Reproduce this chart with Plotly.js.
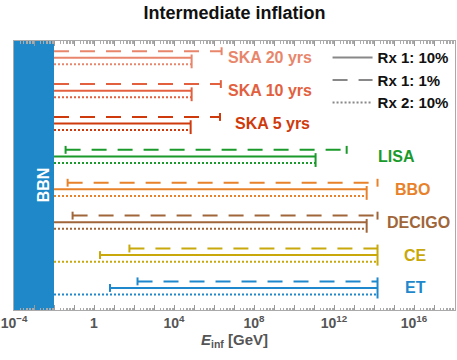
<!DOCTYPE html>
<html>
<head>
<meta charset="utf-8">
<script src="https://cdn.plot.ly/plotly-3.0.1.min.js"></script>
<style>
  html, body { margin: 0; padding: 0; background: #fff; }
  #chart { width: 457px; height: 360px; }
</style>
</head>
<body>
<div id="chart"></div>
<script>
// detectors, bottom to top (E_inf in GeV, null = starts at the BBN bound)
var detectors = ['ET', 'CE', 'DECIGO', 'BBO', 'LISA', 'SKA 5 yrs', 'SKA 10 yrs', 'SKA 20 yrs'];
var colors = ['#1f88cc', '#c8a80a', '#a0663a', '#e8822a', '#1a9a2a', '#cf3a0c', '#e2603e', '#e8866c'];

// Rx 1: 1% (dashed)
var dashLo = [150, 59, 0.085, 0.048, 0.038, null, null, null];
var dashHi = [1.5e14, 1.5e14, 1.5e14, 1.5e14, 4.3e12, 2.0e6, 2.2e6, 2.4e6];
// Rx 1: 10% (solid)
var solidLo = [6.3, 2.0, null, null, null, null, null, null];
var solidHi = [1.5e14, 1.5e14, 4.3e13, 4.3e13, 1.2e11, 6.8e4, 7.6e4, 7.6e4];
// Rx 2: 10% (dotted)
var dotLo = [null, null, null, null, null, null, null, null];
var dotHi = [1.5e14, 1.5e14, 4.3e13, 4.3e13, 1.2e11, 6.8e4, 7.6e4, 7.6e4];

// label positions (log10 GeV)
var labelX = [16.05, 16.05, 16.2, 15.95, 15.1, 8.9, 8.8, 8.8];

var bbn = [1e-4, 1e-2];
var xRange = [-4, 18.05];
var yRange = [-0.67, 7.51];

var DASH = '15px,11px';
var DOT = '2px,2px';
var off = 0.2;

var traces = [];

// BBN band
traces.push({
  type: 'scatter', mode: 'lines',
  x: [bbn[0], bbn[1], bbn[1], bbn[0]],
  y: [yRange[0], yRange[0], yRange[1], yRange[1]],
  fill: 'toself', fillcolor: '#1e88c8',
  line: {width: 0}, hoverinfo: 'skip', showlegend: false
});

function seg(x0, x1, y, color, dash) {
  return {
    type: 'scatter', mode: 'lines',
    x: [x0 === null ? bbn[1] : x0, x1], y: [y, y],
    line: {color: color, width: 2, dash: dash},
    showlegend: false, hoverinfo: 'skip'
  };
}

var annotations = [];

detectors.forEach(function (name, i) {
  var y = i, c = colors[i];
  traces.push(seg(dashLo[i], dashHi[i], y + off, c, DASH));
  traces.push(seg(solidLo[i], solidHi[i], y, c, 'solid'));
  traces.push(seg(dotLo[i], dotHi[i], y - off, c, DOT));

  // end caps
  var cx = [], cy = [];
  function cap(x, ya, yb) { cx.push(x, x, null); cy.push(ya, yb, null); }
  if (dashLo[i] !== null) cap(dashLo[i], y + off + 0.12, y + off - 0.12);
  if (solidLo[i] !== null) cap(solidLo[i], y + 0.12, y - 0.12);
  if (dashHi[i] === solidHi[i]) {
    cap(dashHi[i], y + off + 0.12, y - off - 0.12);
  } else {
    cap(dashHi[i], y + off + 0.12, y + off - 0.12);
    cap(solidHi[i], y + 0.1, y - off - 0.12);
  }
  traces.push({
    type: 'scatter', mode: 'lines', x: cx, y: cy,
    line: {color: c, width: 2}, showlegend: false, hoverinfo: 'skip'
  });

  annotations.push({
    x: labelX[i], y: y, xref: 'x', yref: 'y',
    text: name, showarrow: false,
    font: {family: 'Liberation Sans, Arial', size: 16, color: c, weight: 'bold'}
  });
});

// legend entries
var legendNames = ['Rx 1: 10%', 'Rx 1: 1%', 'Rx 2: 10%'];
var legendDash = ['solid', DASH, DOT];
legendNames.forEach(function (n, k) {
  traces.push({
    type: 'scatter', mode: 'lines', x: [null], y: [null],
    name: n, line: {color: '#888', width: 2, dash: legendDash[k]}
  });
});

annotations.push({
  x: 0.045, y: 0.465, xref: 'paper', yref: 'paper',
  text: 'BBN', textangle: -90, showarrow: false,
  font: {family: 'Liberation Sans, Arial', size: 16, color: '#fff', weight: 'bold'}
});

// axis ticks: every decade, labels every 4 decades
var tickvals = [], ticktext = [], minorvals = [];
for (var p = -4; p <= 18; p++) {
  tickvals.push(Math.pow(10, p));
  if (p % 4 === 0) ticktext.push(p === 0 ? '1' : '10<sup>' + (p < 0 ? '\u2212' + (-p) : p) + '</sup>');
  else ticktext.push('');
  for (var m = 2; m <= 9; m++) minorvals.push(m * Math.pow(10, p));
}

var layout = {
  width: 457, height: 360,
  margin: {l: 14, r: 2, t: 41, b: 50},
  paper_bgcolor: '#fff', plot_bgcolor: '#fff',
  font: {family: 'Liberation Sans, Arial', color: '#555'},
  title: {
    text: 'Intermediate inflation', x: 0.513, xanchor: 'center', y: 0.965, yanchor: 'middle',
    font: {family: 'Liberation Sans, Arial', size: 18, color: '#111', weight: 'bold'}
  },
  xaxis: {
    type: 'log', range: xRange,
    tickmode: 'array', tickvals: tickvals, ticktext: ticktext,
    ticks: 'inside', ticklen: 5, tickcolor: '#999', tickwidth: 1,
    minor: {tickmode: 'array', tickvals: minorvals, ticks: 'inside', ticklen: 2.5, tickcolor: '#aaa', tickwidth: 1},
    showline: true, linecolor: '#aaa', linewidth: 1, mirror: 'ticks',
    showgrid: false, zeroline: false,
    tickfont: {size: 14, color: '#555', weight: 'bold'},
    title: {
      text: '<i>E</i><sub>inf</sub> [GeV]', standoff: 3,
      font: {size: 15, color: '#555', weight: 'bold'}
    }
  },
  yaxis: {
    range: yRange, showticklabels: false, ticks: '',
    showline: true, linecolor: '#aaa', linewidth: 1, mirror: true,
    showgrid: false, zeroline: false
  },
  showlegend: true,
  legend: {
    x: 0.711, y: 0.999, xanchor: 'left', yanchor: 'top',
    bgcolor: 'rgba(0,0,0,0)', itemwidth: 40,
    font: {family: 'Liberation Sans, Arial', size: 15, color: '#111', weight: 'bold'}
  },
  annotations: annotations
};

Plotly.newPlot('chart', traces, layout, {displayModeBar: false, staticPlot: true});
</script>
</body>
</html>
